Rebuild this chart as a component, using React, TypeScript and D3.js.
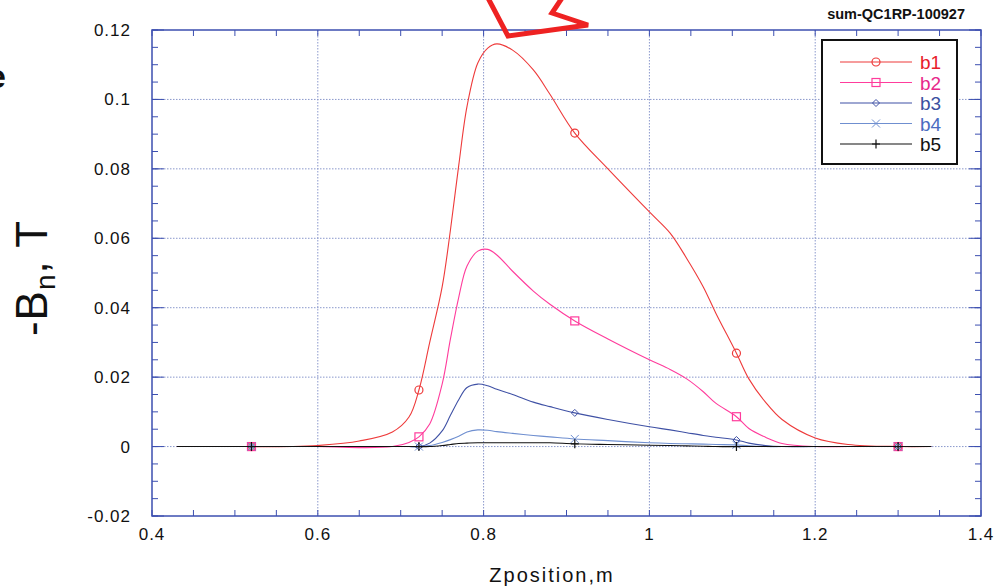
import * as d3 from "d3";

// sample positions along z (m); markers sit at the markerZ entries
const zPos = [0.43, 0.5, 0.52, 0.57, 0.6, 0.65, 0.69, 0.71, 0.722, 0.735, 0.75, 0.76, 0.77, 0.78, 0.793, 0.805, 0.816, 0.835, 0.86, 0.88, 0.91, 0.95, 1.0, 1.025, 1.045, 1.065, 1.08, 1.105, 1.12, 1.14, 1.16, 1.2, 1.24, 1.3, 1.34];
const markerZ = [0.52, 0.722, 0.91, 1.105, 1.3];

const b1 = [0, 0, 0, 0, 0.0003, 0.0016, 0.0042, 0.0085, 0.0163, 0.03, 0.046, 0.0624, 0.081, 0.098, 0.1105, 0.1148, 0.116, 0.1142, 0.1085, 0.1015, 0.0903, 0.08, 0.0676, 0.0615, 0.0542, 0.046, 0.0385, 0.0269, 0.0195, 0.0128, 0.0078, 0.0025, 0.0006, 0, 0];
const b2 = [0, 0, 0, 0, 0, -0.0003, 0, 0.0012, 0.0028, 0.0065, 0.018, 0.031, 0.043, 0.052, 0.0563, 0.0568, 0.0552, 0.0505, 0.0448, 0.041, 0.0362, 0.031, 0.025, 0.0222, 0.0195, 0.0158, 0.0125, 0.0086, 0.0052, 0.0027, 0.0009, 0, 0, 0, 0];
const b3 = [0, 0, 0, 0, 0, 0, 0, 0, 0, 0.001, 0.0045, 0.009, 0.0135, 0.017, 0.018, 0.0175, 0.0165, 0.015, 0.0128, 0.0115, 0.0097, 0.0078, 0.0057, 0.0048, 0.004, 0.0032, 0.0027, 0.0019, 0.001, 0.0003, 0, 0, 0, 0, 0];
const b4 = [0, 0, 0, 0, 0, 0, 0, 0, 0, 0.0003, 0.0012, 0.002, 0.003, 0.0042, 0.0048, 0.0047, 0.0043, 0.0038, 0.0032, 0.0028, 0.0022, 0.0017, 0.0011, 0.0009, 0.0008, 0.0007, 0.0006, 0.0005, 0.0002, 0, 0, 0, 0, 0, 0];
const b5 = [0, 0, 0, 0, 0, 0, 0, 0, 0, 0, 0.0003, 0.0006, 0.0009, 0.001, 0.0011, 0.0011, 0.0011, 0.0011, 0.0011, 0.0011, 0.0008, 0.0006, 0.0004, 0.0003, 0.0002, 0.0001, 0, 0, 0, 0, 0, 0, 0, 0, 0];

const seriesNames = ["b1", "b2", "b3", "b4", "b5"];
const seriesValues = [b1, b2, b3, b4, b5];
const lineColors = ["#ee3a3a", "#ff3c9c", "#3f51a5", "#6f8fd0", "#111111"];
const textColors = ["#e8202a", "#e8288a", "#3a4fa0", "#4a6cc0", "#111111"];
const markerTypes = ["circle", "square", "diamond", "x", "plus"];

const xTicks = [0.4, 0.6, 0.8, 1, 1.2, 1.4];
const yTicks = [-0.02, 0, 0.02, 0.04, 0.06, 0.08, 0.1, 0.12];

const W = 998;
const H = 586;
const left = 152;
const right = 981;
const top = 30;
const bottom = 516;
const axisColor = "#3c4fb0";

const Marker = ({ type, x, y, color }) => {
  if (type === "circle") return <circle cx={x} cy={y} r={4} fill="none" stroke={color} strokeWidth={1.2} />;
  if (type === "square") return <rect x={x - 4} y={y - 4} width={8} height={8} fill="none" stroke={color} strokeWidth={1.2} />;
  if (type === "diamond")
    return <path d={`M${x},${y - 3.5}L${x + 3.5},${y}L${x},${y + 3.5}L${x - 3.5},${y}Z`} fill="none" stroke={color} strokeWidth={1} />;
  if (type === "x")
    return <path d={`M${x - 4},${y - 4}L${x + 4},${y + 4}M${x - 4},${y + 4}L${x + 4},${y - 4}`} stroke={color} strokeWidth={1} />;
  return <path d={`M${x - 4},${y}L${x + 4},${y}M${x},${y - 4.5}L${x},${y + 4.5}`} stroke={color} strokeWidth={1.2} />;
};

// plain hyphen for negatives, like the original plot
const fmt = (t) => String(+t.toFixed(2));

export default function App() {
  const x = d3.scaleLinear().domain([0.4, 1.4]).range([left, right]);
  const y = d3.scaleLinear().domain([-0.02, 0.12]).range([bottom, top]);

  const line = d3
    .line<number>()
    .x((_, i) => x(zPos[i]))
    .y((d) => y(d))
    .curve(d3.curveCatmullRom.alpha(0.5));

  const xMinor = d3.range(0.4, 1.4001, 0.05);
  const yMinor = d3.range(-0.02, 0.1201, 0.005);

  return (
    <div style={{ position: "absolute", left: 0, top: 0 }}>
      <svg width={W} height={H} style={{ display: "block", fontFamily: "Liberation Sans, Arial, sans-serif" }}>
        <rect width={W} height={H} fill="#ffffff" />

        {/* grid */}
        <g stroke="#8a98cc" strokeWidth={1} strokeDasharray="1.5,1.5">
          {xTicks.slice(1, -1).map((t) => (
            <line key={t} x1={x(t)} x2={x(t)} y1={top} y2={bottom} />
          ))}
          {yTicks.slice(1, -1).map((t) => (
            <line key={t} x1={left} x2={right} y1={y(t)} y2={y(t)} />
          ))}
        </g>

        {/* minor + major ticks on all four sides */}
        <g stroke={axisColor} strokeWidth={1}>
          {xMinor.map((t) => (
            <g key={`xm${t}`}>
              <line x1={x(t)} x2={x(t)} y1={bottom} y2={bottom - 6} />
              <line x1={x(t)} x2={x(t)} y1={top} y2={top + 6} />
            </g>
          ))}
          {yMinor.map((t) => (
            <g key={`ym${t}`}>
              <line x1={left} x2={left + 6} y1={y(t)} y2={y(t)} />
              <line x1={right} x2={right - 6} y1={y(t)} y2={y(t)} />
            </g>
          ))}
          {yTicks.map((t) => (
            <g key={`yM${t}`}>
              <line x1={left} x2={left + 12} y1={y(t)} y2={y(t)} />
              <line x1={right} x2={right - 12} y1={y(t)} y2={y(t)} />
            </g>
          ))}
        </g>

        {/* curves */}
        {seriesValues.map((vals, si) => (
          <g key={seriesNames[si]}>
            <path d={line(vals) || ""} fill="none" stroke={lineColors[si]} strokeWidth={1.1} />
            {zPos.map((z, i) =>
              markerZ.includes(z) ? (
                <Marker key={i} type={markerTypes[si]} x={x(z)} y={y(vals[i])} color={lineColors[si]} />
              ) : null
            )}
          </g>
        ))}

        {/* frame */}
        <rect x={left} y={top} width={right - left} height={bottom - top} fill="none" stroke={axisColor} strokeWidth={1.5} />

        {/* tick labels */}
        <g fontSize={17} letterSpacing={1} fill="#111">
          {xTicks.map((t) => (
            <text key={t} x={x(t)} y={540} textAnchor="middle">
              {fmt(t)}
            </text>
          ))}
          {yTicks.map((t) => (
            <text key={t} x={131} y={y(t) + 6} textAnchor="end">
              {fmt(t)}
            </text>
          ))}
        </g>

        <text x={552} y={582} textAnchor="middle" fontSize={20} letterSpacing={2} fill="#111">
          Zposition,m
        </text>

        <text transform="translate(47,278) rotate(-90)" textAnchor="middle" fontSize={44} letterSpacing={1} fill="#111">
          -B<tspan fontSize={28} dy={8}>n</tspan>
          <tspan dy={-8}>, T</tspan>
        </text>

        <text x={6} y={88} textAnchor="end" fontSize={34} fontWeight="bold" fill="#111">
          e
        </text>

        <text x={965} y={19} textAnchor="end" fontSize={14.5} fontWeight="bold" fill="#111">
          sum-QC1RP-100927
        </text>

        {/* legend */}
        <rect x={822} y={40} width={135} height={124} fill="#ffffff" stroke="#111" strokeWidth={2} />
        {seriesNames.map((name, i) => {
          const ly = 62 + i * 20.5;
          return (
            <g key={name}>
              <line x1={840} x2={912} y1={ly} y2={ly} stroke={lineColors[i]} strokeWidth={1.2} />
              <Marker type={markerTypes[i]} x={876} y={ly} color={lineColors[i]} />
              <text x={920} y={ly + 7} fontSize={19} fill={textColors[i]}>
                {name}
              </text>
            </g>
          );
        })}

        {/* red annotation arrow */}
        <path d="M488,-2L508,36L588,25L552,13L562,-2" fill="none" stroke="#ee2222" strokeWidth={5} strokeLinejoin="miter" />
      </svg>
    </div>
  );
}
